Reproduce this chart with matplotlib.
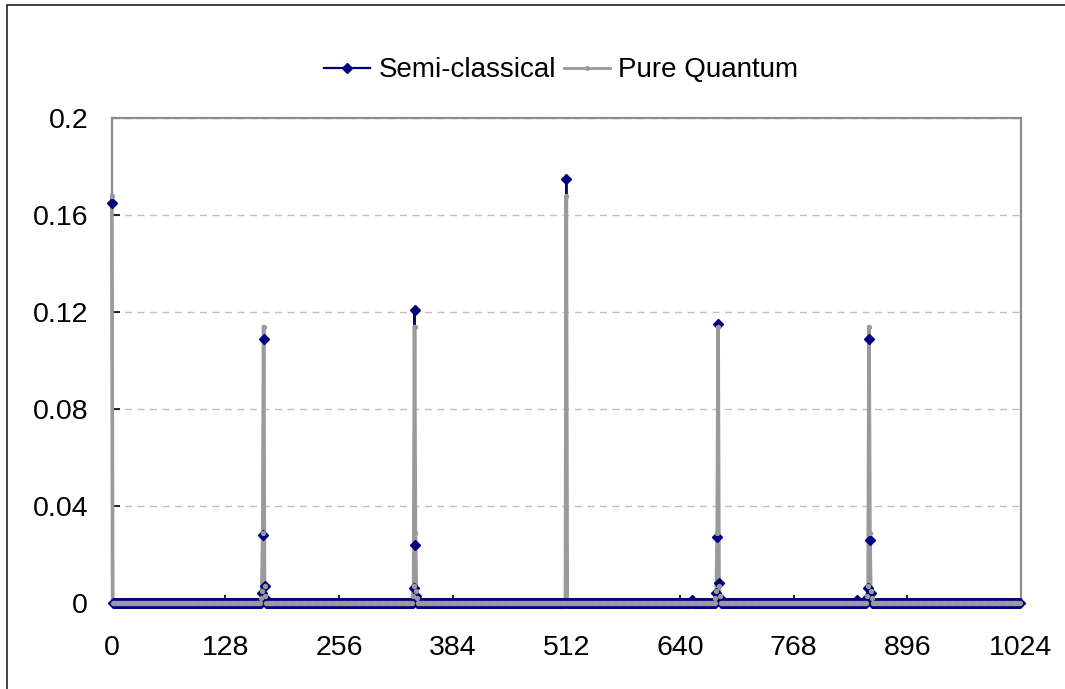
import matplotlib
matplotlib.use("Agg")
import matplotlib.pyplot as plt
from matplotlib.lines import Line2D
from matplotlib.patches import Rectangle
import numpy as np

plt.rcParams['font.family'] = ['Liberation Sans', 'DejaVu Sans']

# number of measurement outcomes (x = 0 .. 1023)
n_points = 1024

# semi-classical run: indices with visible probability and their values
semi_idx = [0, 169, 170, 171, 172, 173,
            340, 341, 342, 343,
            512, 654,
            681, 682, 683, 684, 685,
            840, 851, 852, 853, 854, 855]
semi_val = [0.165, 0.004, 0.028, 0.109, 0.007, 0.002,
            0.006, 0.121, 0.024, 0.003,
            0.175, 0.001,
            0.004, 0.027, 0.115, 0.008, 0.002,
            0.001, 0.002, 0.006, 0.109, 0.026, 0.004]

# pure quantum distribution: indices with visible probability and their values
quant_idx = [0, 168, 169, 170, 171, 172, 173,
             339, 340, 341, 342, 343, 344,
             512,
             680, 681, 682, 683, 684, 685,
             851, 852, 853, 854, 855, 856]
quant_val = [0.168, 0.002, 0.005, 0.029, 0.114, 0.007, 0.003,
             0.003, 0.007, 0.114, 0.029, 0.005, 0.002,
             0.168,
             0.002, 0.005, 0.029, 0.114, 0.007, 0.003,
             0.003, 0.007, 0.114, 0.029, 0.005, 0.002]

x_ticks = [0, 128, 256, 384, 512, 640, 768, 896, 1024]
y_ticks = [0, 0.04, 0.08, 0.12, 0.16, 0.2]
y_labels = ["0", "0.04", "0.08", "0.12", "0.16", "0.2"]

x = np.arange(n_points)
semi = np.zeros(n_points)
semi[semi_idx] = semi_val
quant = np.zeros(n_points)
quant[quant_idx] = quant_val

navy = "#000080"
gray = "#9a9a9a"

fig = plt.figure(figsize=(10.65, 6.89), dpi=100)
ax = fig.add_axes([0.105, 0.125, 0.8535, 0.7037])

# lines first, markers after (like the spreadsheet renders it)
ax.plot(x, semi, color=navy, lw=1.6, zorder=3, clip_on=False)
ax.plot(x, quant, color=gray, lw=2.6, zorder=4, clip_on=False)
ax.plot(x, semi, ls="none", marker="D", ms=4.8, color=navy, zorder=5,
        clip_on=False)
ax.plot(x, quant, ls="none", marker="o", ms=2.8, color=gray, mec=gray,
        zorder=6, clip_on=False)

ax.set_xlim(0, 1024)
ax.set_ylim(0, 0.2)
ax.set_xticks(x_ticks)
ax.set_xticklabels([str(t) for t in x_ticks])
ax.set_yticks(y_ticks)
ax.set_yticklabels(y_labels)
ax.tick_params(axis="both", direction="in", length=6, width=1.2, color="black",
               labelsize=20.5)
ax.tick_params(axis="y", pad=17)
ax.tick_params(axis="x", pad=23)
ax.yaxis.grid(True, ls=(0, (5, 4)), color="#c0c0c0", lw=1.0)
ax.set_axisbelow(True)
for sp in ax.spines.values():
    sp.set_color("#8c8c8c")
    sp.set_linewidth(1.6)

handles = [Line2D([], [], color=navy, lw=1.6, marker="D", ms=5),
           Line2D([], [], color=gray, lw=2.0, marker="o", ms=2.6)]
fig.legend(handles, ["Semi-classical", "Pure Quantum"], loc="center",
           bbox_to_anchor=(0.527, 0.898), ncol=2, frameon=False, fontsize=20,
           handlelength=1.65, handletextpad=0.3, columnspacing=0.3)

# outer chart border (only top/left visible in the crop)
fig.patches.append(Rectangle((0.0066, -0.1), 1.2, 0.9927 + 0.1, fill=False,
                             edgecolor="#222222", lw=1.2,
                             transform=fig.transFigure, figure=fig))

fig.savefig("out.png", dpi=100)
